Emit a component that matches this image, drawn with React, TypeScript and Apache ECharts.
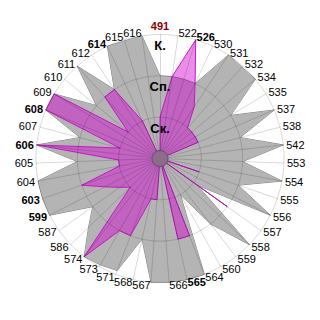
import React, { useEffect, useRef } from "react";
import * as echarts from "echarts";

// Categories clockwise from the top
const categories = [
  "491", "522", "526", "530", "531", "532", "534", "535", "537", "538", "542",
  "553", "554", "555", "556", "557", "558", "559", "560", "564", "565", "566",
  "567", "568", "571", "573", "574", "586", "587", "599", "603", "604", "605",
  "606", "607", "608", "609", "610", "611", "612", "614", "615", "616",
];

const grayValues = [
  2, 2, 2, 2, 3, 2.97, 3, 2, 3, 2, 3,
  2, 3, 2, 3, 1.1, 3, 2, 1, 3, 3, 3,
  3, 2, 2.9, 2.95, 3, 2.4, 2, 3, 3, 3, 2,
  3, 2, 3, 3, 2, 3, 2, 3, 2.97, 3,
];

const magentaValues = [
  1, 2, 3, 2, 1.5, 1, 1, 1, 1, 0, 0,
  0, 0, 1, 0, 2, 0, 0, 0, 2, 2, 0,
  1, 1, 2, 2, 3, 1, 1.2, 1.5, 2, 1, 1,
  3, 1, 3, 3, 1, 2, 2, 1, 0, 0,
];

const boldLabels = ["526", "565", "599", "603", "606", "608", "614"];
const redLabels = ["491"];

const levelNames = ["Ск.", "Сп.", "К."];
const maxValue = 3;

const CX = 160;
const CY = 158.5;
const R = 124;

export default function App() {
  const ref = useRef<HTMLDivElement>(null);

  useEffect(() => {
    if (!ref.current) return;
    const chart = echarts.init(ref.current, null, { renderer: "svg" });

    // ECharts radar runs counter-clockwise: keep first, reverse the rest
    const order = [0, ...categories.map((_, i) => i).slice(1).reverse()];
    const indicator = order.map((i) => ({ name: categories[i], min: 0, max: maxValue }));
    const gray = order.map((i) => grayValues[i]);
    const magenta = order.map((i) => magentaValues[i]);

    const gridColor = "rgba(0,0,0,0.15)";
    const font = "'Liberation Sans', Arial, sans-serif";

    chart.setOption({
      animation: false,
      backgroundColor: "#ffffff",
      radar: {
        center: [CX, CY],
        radius: R,
        startAngle: 90,
        shape: "circle",
        splitNumber: 3,
        z: 3,
        nameGap: 3,
        indicator,
        axisName: {
          color: "#000",
          fontSize: 11,
          fontFamily: font,
          formatter: (name: string) =>
            redLabels.includes(name)
              ? `{r|${name}}`
              : boldLabels.includes(name)
              ? `{b|${name}}`
              : name,
          rich: {
            r: { color: "#8b0000", fontWeight: "bold", fontSize: 11, fontFamily: font },
            b: { color: "#000", fontWeight: "bold", fontSize: 11, fontFamily: font },
          },
        },
        splitLine: { lineStyle: { color: gridColor, width: 1 } },
        axisLine: { lineStyle: { color: gridColor, width: 1 } },
        splitArea: { show: false },
        axisTick: { show: false },
        axisLabel: { show: false },
      },
      series: [
        {
          type: "radar",
          z: 2,
          symbol: "none",
          data: [
            {
              value: gray,
              lineStyle: { color: "#808080", width: 1 },
              areaStyle: { color: "#b4b4b4", opacity: 1 },
            },
            {
              value: magenta,
              lineStyle: { color: "#c020c0", width: 1 },
              areaStyle: { color: "rgba(210,0,210,0.45)", opacity: 1 },
            },
          ],
        },
      ],
      graphic: [
        {
          type: "circle",
          z: 100,
          shape: { cx: CX, cy: CY, r: 8 },
          style: { fill: "#8c6c8c", stroke: "#6a4c6a", lineWidth: 1 },
        },
        ...levelNames.map((t, i) => ({
          type: "text",
          z: 100,
          x: CX,
          y: CY - ((i + 1) * R) / levelNames.length + 11,
          style: {
            text: t,
            fill: "#000",
            font: `bold 13px ${font}`,
            textAlign: "center",
            textVerticalAlign: "middle",
          },
        })),
      ],
    });

    return () => chart.dispose();
  }, []);

  return (
    <div
      ref={ref}
      style={{ position: "fixed", left: 0, top: 0, width: 320, height: 320, background: "#fff" }}
    />
  );
}
